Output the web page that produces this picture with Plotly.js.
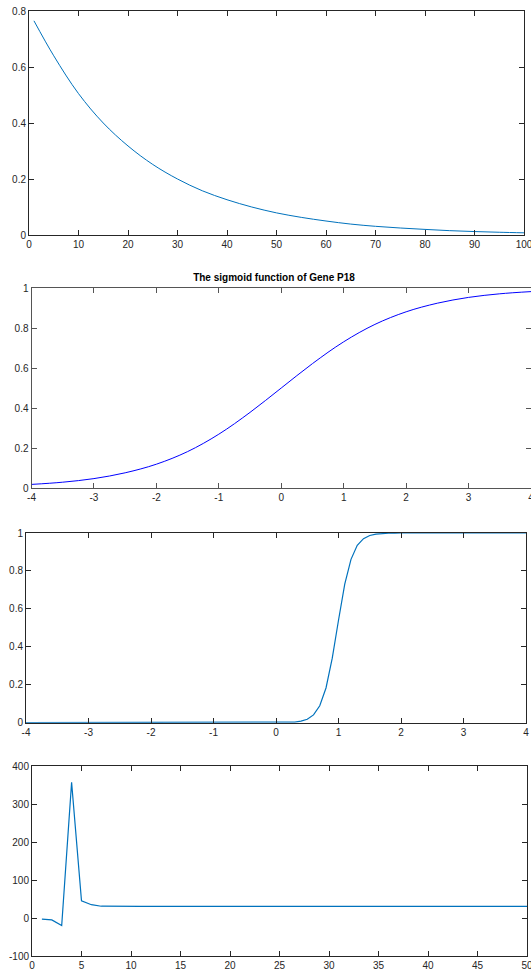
<!DOCTYPE html>
<html>
<head>
<meta charset="utf-8">
<script src="https://cdn.plot.ly/plotly-3.0.1.min.js"></script>
<style>html,body{margin:0;padding:0;background:#fff;}#chart{width:531px;height:972px;}</style>
</head>
<body>
<div id="chart"></div>
<script>
// Panel 1: decay curve
const p1x = [1, 5, 10, 15, 20, 25, 30, 35, 40, 45, 50, 55, 60, 65, 70, 75, 80, 85, 90, 95, 100];
const p1y = [0.765, 0.64, 0.505, 0.40, 0.318, 0.252, 0.20, 0.158, 0.126, 0.10, 0.079, 0.063, 0.05, 0.039, 0.031, 0.025, 0.020, 0.0155, 0.0123, 0.0098, 0.0078];

// Panel 2: sigmoid of Gene P18
const p2x = [-4, -3.5, -3, -2.5, -2, -1.5, -1, -0.5, 0, 0.5, 1, 1.5, 2, 2.5, 3, 3.5, 4];
const p2y = [0.018, 0.029, 0.047, 0.076, 0.119, 0.182, 0.269, 0.378, 0.5, 0.622, 0.731, 0.818, 0.881, 0.924, 0.953, 0.971, 0.982];

// Panel 3: steep sigmoid
const p3x = [-4, -3, -2, -1, 0, 0.1, 0.2, 0.3, 0.4, 0.5, 0.6, 0.7, 0.8, 0.9, 1.0, 1.1, 1.2, 1.3, 1.4, 1.5, 1.6, 1.7, 1.8, 1.9, 2.0, 3, 4];
const p3y = [0, 0, 0, 0, 0.0003, 0.0007, 0.0015, 0.0035, 0.008, 0.018, 0.041, 0.089, 0.183, 0.34, 0.54, 0.73, 0.861, 0.935, 0.970, 0.987, 0.994, 0.9975, 0.999, 0.9995, 1.0, 1.0, 1.0];

// Panel 4: spike series
const p4x = [1,2,3,4,5,6,7,8,9,10,11,12,13,14,15,16,17,18,19,20,21,22,23,24,25,26,27,28,29,30,31,32,33,34,35,36,37,38,39,40,41,42,43,44,45,46,47,48,49,50];
const p4y = [-3,-5,-20,357,45,35,31,30.5,30.5,30.5,30.5,30.5,30.5,30.5,30.5,30.5,30.5,30.5,30.5,30.5,30.5,30.5,30.5,30.5,30.5,30.5,30.5,30.5,30.5,30.5,30.5,30.5,30.5,30.5,30.5,30.5,30.5,30.5,30.5,30.5,30.5,30.5,30.5,30.5,30.5,30.5,30.5,30.5,30.5,30.5];

const p1ticksX = [0,10,20,30,40,50,60,70,80,90,100];
const p1ticksY = [0,0.2,0.4,0.6,0.8];
const sigTicksX = [-4,-3,-2,-1,0,1,2,3,4];
const sigTicksY = [0,0.2,0.4,0.6,0.8,1];
const p4ticksX = [0,5,10,15,20,25,30,35,40,45,50];
const p4ticksY = [-100,0,100,200,300,400];

const W = 531, H = 972;
const mBlue = '#0072BD';

function ax(domain, range, tickvals, lineColor) {
  return {
    domain: domain, range: range, tickmode: 'array', tickvals: tickvals,
    ticktext: tickvals.map(v => String(v)),
    showgrid: false, zeroline: false, showline: true, mirror: 'ticks',
    linecolor: lineColor || '#262626', linewidth: 1,
    ticks: 'inside', ticklen: 5, tickwidth: 1, tickcolor: lineColor || '#262626',
    tickfont: {family: 'Liberation Sans, Arial, sans-serif', size: 10, color: '#262626'},
    ticklabeloverflow: 'allow',
    fixedrange: true
  };
}
function xd(l, r) { return [l / W, Math.min(r / W, 1)]; }
function yd(t, b) { return [1 - b / H, 1 - t / H]; }

const traces = [
  {x: p1x, y: p1y, type: 'scatter', mode: 'lines', line: {color: mBlue, width: 1, shape: 'spline'}, xaxis: 'x', yaxis: 'y'},
  {x: p2x, y: p2y, type: 'scatter', mode: 'lines', line: {color: '#0000FF', width: 1, shape: 'spline'}, xaxis: 'x2', yaxis: 'y2'},
  {x: p3x, y: p3y, type: 'scatter', mode: 'lines', line: {color: mBlue, width: 1.2}, xaxis: 'x3', yaxis: 'y3'},
  {x: p4x, y: p4y, type: 'scatter', mode: 'lines', line: {color: mBlue, width: 1.2}, xaxis: 'x4', yaxis: 'y4'}
];

const layout = {
  width: W, height: H,
  margin: {l: 0, r: 0, t: 0, b: 0},
  paper_bgcolor: '#ffffff', plot_bgcolor: '#ffffff',
  showlegend: false,
  title: {
    text: '<b>The sigmoid function of Gene P18</b>',
    x: 274 / W, y: 1 - 277.5 / H, xanchor: 'center', yanchor: 'middle',
    font: {family: 'Liberation Sans, Arial, sans-serif', size: 10, color: '#000000'}
  },
  xaxis: Object.assign(ax(xd(29, 524), [0, 100], p1ticksX), {anchor: 'y'}),
  yaxis: Object.assign(ax(yd(11, 235), [0, 0.8], p1ticksY), {anchor: 'x'}),
  xaxis2: Object.assign(ax(xd(31.5, 533), [-4, 4], sigTicksX, '#555555'), {anchor: 'y2'}),
  yaxis2: Object.assign(ax(yd(288, 488), [0, 1], sigTicksY, '#555555'), {anchor: 'x2'}),
  xaxis3: Object.assign(ax(xd(26, 526), [-4, 4], sigTicksX), {anchor: 'y3'}),
  yaxis3: Object.assign(ax(yd(533, 722.7), [0, 1], sigTicksY), {anchor: 'x3'}),
  xaxis4: Object.assign(ax(xd(32, 527), [0, 50], p4ticksX), {anchor: 'y4'}),
  yaxis4: Object.assign(ax(yd(766, 956), [-100, 400], p4ticksY), {anchor: 'x4'})
};

Plotly.newPlot('chart', traces, layout, {displayModeBar: false, staticPlot: true});
</script>
</body>
</html>
